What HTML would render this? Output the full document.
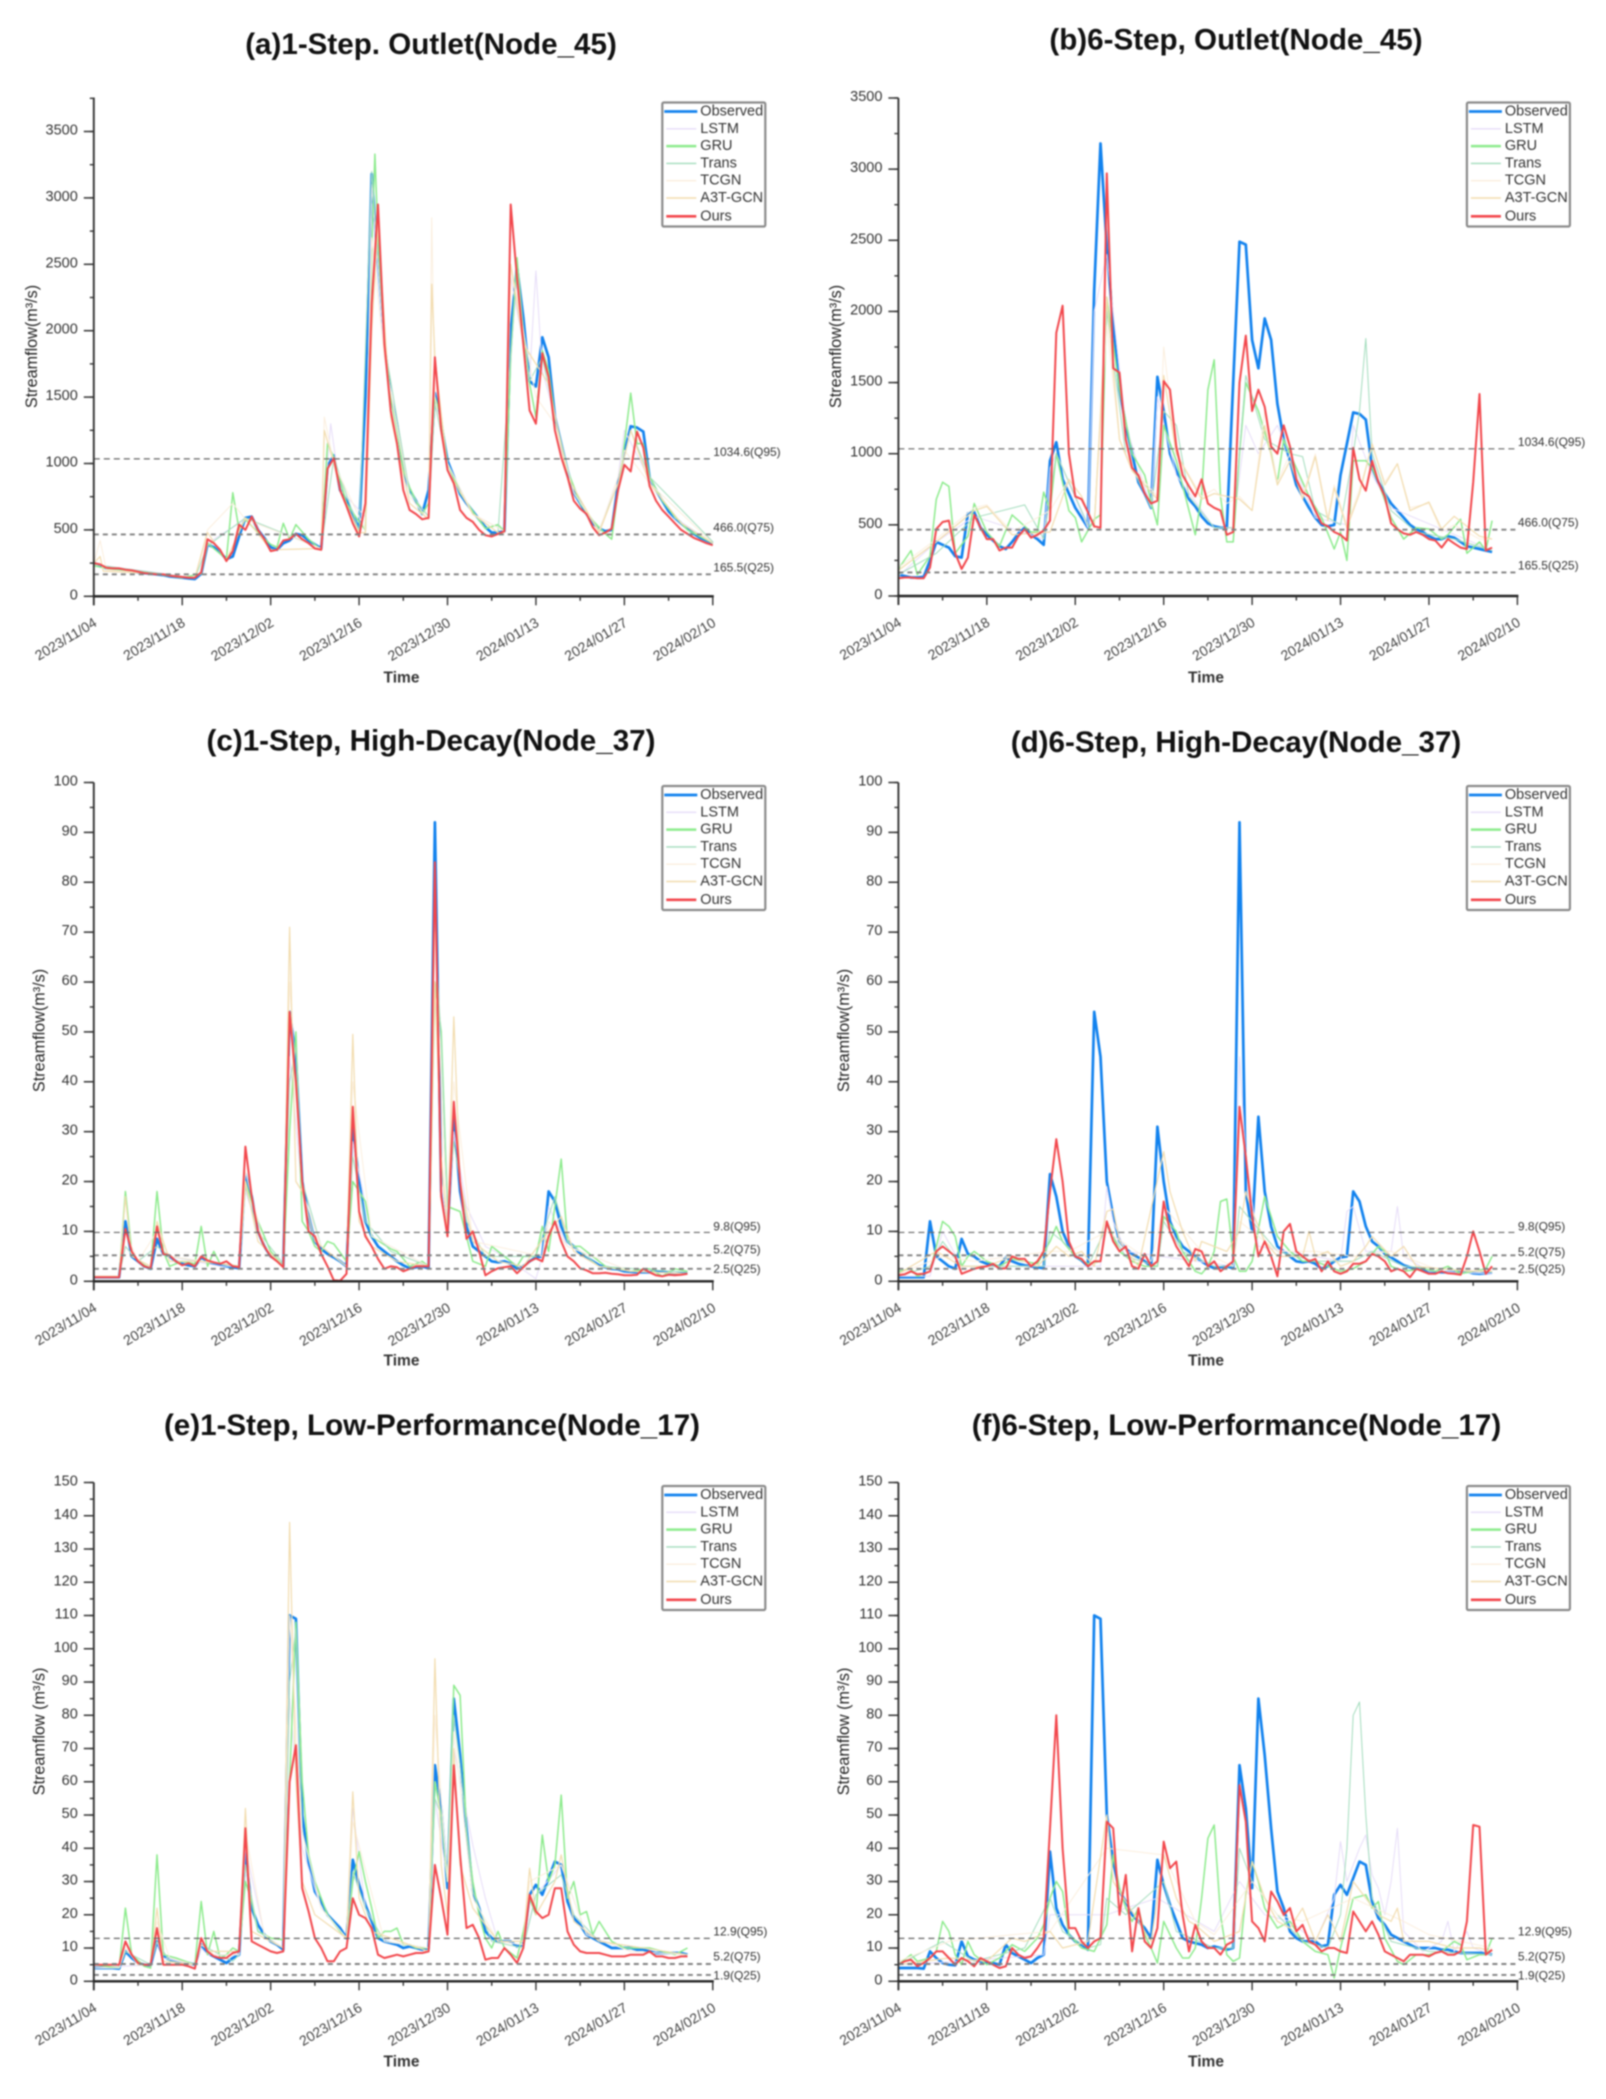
<!DOCTYPE html>
<html lang="en">
<head>
<meta charset="utf-8">
<title>Streamflow prediction panels</title>
<style>
html,body{margin:0;padding:0;background:#fff;}
#figure{display:block;width:1606px;height:2099px;filter:blur(0.8px);font-family:"Liberation Sans",sans-serif;}
.title{font-size:29.6px;font-weight:bold;fill:#111;text-anchor:middle;dominant-baseline:central;}
.xt{font-size:15.5px;font-weight:bold;fill:#333;text-anchor:middle;dominant-baseline:central;}
.yt{font-size:16.2px;fill:#222;text-anchor:middle;dominant-baseline:central;}
</style>
</head>
<body>
<svg id="figure" xmlns="http://www.w3.org/2000/svg" width="1606" height="2099" viewBox="0 0 1606 2099">
<rect width="1606" height="2099" fill="#fff"/>
<g id="panel-a">
<text class="title" x="431" y="44.5">(a)1-Step. Outlet(Node_45)</text>
<text class="xt" x="401.5" y="678">Time</text>
<text class="yt" transform="translate(32,346.5) rotate(-90)">Streamflow(m³/s)</text>
</g>
<g id="panel-b">
<text class="title" x="1236" y="40">(b)6-Step, Outlet(Node_45)</text>
<text class="xt" x="1206" y="678">Time</text>
<text class="yt" transform="translate(836,346.5) rotate(-90)">Streamflow(m³/s)</text>
</g>
<g id="panel-c">
<text class="title" x="431" y="741">(c)1-Step, High-Decay(Node_37)</text>
<text class="xt" x="401.5" y="1361.2">Time</text>
<text class="yt" transform="translate(39.5,1030.5) rotate(-90)">Streamflow(m³/s)</text>
</g>
<g id="panel-d">
<text class="title" x="1236" y="742.7">(d)6-Step, High-Decay(Node_37)</text>
<text class="xt" x="1206" y="1361.2">Time</text>
<text class="yt" transform="translate(844,1030.5) rotate(-90)">Streamflow(m³/s)</text>
</g>
<g id="panel-e">
<text class="title" x="432" y="1425.4">(e)1-Step, Low-Performance(Node_17)</text>
<text class="xt" x="401.5" y="2062">Time</text>
<text class="yt" transform="translate(39.5,1731.5) rotate(-90)">Streamflow (m³/s)</text>
</g>
<g id="panel-f">
<text class="title" x="1236.5" y="1425.4">(f)6-Step, Low-Performance(Node_17)</text>
<text class="xt" x="1206" y="2062">Time</text>
<text class="yt" transform="translate(844,1731.5) rotate(-90)">Streamflow (m³/s)</text>
</g>
</svg>
<script>
/* ---------- shared labels ---------- */
const dateLabels = ['2023/11/04','2023/11/18','2023/12/02','2023/12/16','2023/12/30','2024/01/13','2024/01/27','2024/02/10'];
const modelNames = ['Observed','LSTM','GRU','Trans','TCGN','A3T-GCN','Ours'];
const yTicksOutlet = [0,500,1000,1500,2000,2500,3000,3500];
const yTicksDecay = [0,10,20,30,40,50,60,70,80,90,100];
const yTicksLow = [0,10,20,30,40,50,60,70,80,90,100,110,120,130,140,150];
const qOutlet = [1034.6,466.0,165.5];
const qOutletLabels = ['1034.6(Q95)','466.0(Q75)','165.5(Q25)'];
const qDecay = [9.8,5.2,2.5];
const qDecayLabels = ['9.8(Q95)','5.2(Q75)','2.5(Q25)'];
const qLow = [12.9,5.2,1.9];
const qLowLabels = ['12.9(Q95)','5.2(Q75)','1.9(Q25)'];
const dayGrid = Array.from({length:99},(_,i)=>i);

/* ---------- panel a ---------- */
const aObserved = [250,235,210,205,205,200,190,180,175,170,165,160,150,145,140,135,130,170,390,370,330,280,300,450,590,600,500,440,370,350,400,420,470,460,420,390,360,980,1060,800,720,620,500,1500,3180,2500,1900,1500,1300,950,800,720,620,800,1530,1300,1020,900,770,700,640,580,520,480,480,490,2000,2480,2100,1620,1580,1950,1800,1350,1150,950,780,700,620,550,510,490,500,850,1080,1280,1270,1240,890,800,720,640,590,550,510,470,440,420,400];
const aOurs = [250,240,215,210,210,200,195,185,175,170,165,165,155,150,145,140,140,180,430,400,350,265,340,540,500,600,500,430,340,350,420,430,470,430,400,360,350,960,1040,800,680,550,450,700,2200,2950,1900,1400,1150,800,650,620,580,590,1800,1250,950,850,650,590,560,500,460,450,470,490,2950,2400,1900,1400,1300,1830,1650,1250,1050,900,720,660,620,520,460,480,510,800,990,940,1240,1120,830,720,650,600,550,500,470,440,420,400,385];
const aGruDays = [0,3,8,14,17,18,21,22,23,24,26,28,29,30,31,32,34,36,37,38,40,42,43,44,44.5,45,46,47,48,49,50,52,53,54,55,56,58,60,62,64,65,66,67,68,69,70,71,72,73,75,77,79,81,82,83,84,85,86,87,88,90,92,94,98];
const aGru = [230,200,180,140,170,400,280,780,500,580,480,390,370,550,430,540,430,350,1150,1050,700,560,500,2600,3330,2700,1950,1500,1250,950,820,620,700,1500,1350,1000,780,640,510,540,490,1800,2550,2000,1600,1350,1850,1700,1350,950,700,570,470,430,800,1150,1530,1150,1150,900,720,600,500,400];
const aA3tDays = [0,1,1.5,8,16,18,21,24,28,36,36.5,38,39,42,43,44,45,47,50,53,53.5,54,56,60,64,65,66,68,72,75,80,83,85,88,93,98];
const aA3t = [250,300,190,175,140,480,270,590,350,360,1250,1000,800,480,480,2000,2800,1350,700,580,2350,1800,950,620,480,480,2500,1900,1600,900,480,850,1250,850,550,400];
const aTcgnDays = [0,1,2,16,18,22,24,36,36.5,38,43,44,46,50,53,53.5,54,56,60,65,66,70,73,76,80,83,84,88,98];
const aTcgn = [250,420,200,140,500,700,580,360,1350,1000,500,2700,1800,750,580,2850,1500,1000,620,490,2500,1500,1300,780,490,900,1100,850,400];
const aLstmDays = [0,16,17,18,24,36,37,37.5,39,43,44,46,50,53,54,56,60,65,66,69,70,71,73,76,80,83,84,88,92,98];
const aLstm = [240,140,170,400,580,360,1000,1300,800,600,3100,1800,780,600,1500,1000,620,490,2400,1650,2450,1700,1350,780,490,900,1250,880,590,400];
const aTransDays = [0,16,18,24,36,38,42,44,46,50,53,54,56,60,64,66,67,69,71,73,76,80,83,85,88,98];
const aTrans = [240,135,380,590,360,1040,490,3200,1900,780,600,1450,1000,620,480,1800,2450,1620,1800,1350,780,500,850,1250,900,410];

/* ---------- panel b ---------- */
const bObserved = [150,140,130,130,135,250,380,360,340,280,270,580,590,480,430,390,350,330,380,440,480,430,400,360,950,1080,820,720,620,550,480,2150,3180,2450,1900,1450,1200,1000,800,720,620,1540,1300,1000,880,770,680,630,560,510,490,480,480,1500,2490,2470,1800,1600,1950,1800,1350,1100,950,780,700,620,550,500,490,500,850,1070,1290,1280,1240,900,800,720,650,600,550,500,470,450,420,400,400,420,410,380,350,340,330,320,310];
const bOurs = [125,130,130,125,125,200,470,520,530,300,190,270,570,480,400,400,320,340,340,420,470,410,430,460,530,1850,2040,1000,700,680,590,490,480,2970,1600,1570,1100,900,850,720,650,670,1510,1450,1050,850,770,700,820,650,620,600,430,450,1500,1830,1300,1450,1330,1050,1000,1200,1050,820,730,700,600,510,490,450,430,390,1040,820,740,950,800,700,510,470,440,430,450,430,400,390,340,400,370,340,330,800,1420,320,340];
const bGruDays = [0,2,3,5,6,7,8,9,11,12,14,16,18,21,22,23,24,25,27,28,29,31,32,33,35,37,39,40,41,42,44,46,47,48,49,50,51,52,53,54,55,57,59,60,61,63,65,67,69,70,71,72,74,75,76,78,80,82,84,86,87,89,90,92,93,94];
const bGru = [190,320,150,280,680,800,770,300,420,650,450,350,570,450,450,730,600,1000,600,550,380,540,570,2100,1450,1000,850,660,500,1200,950,600,430,700,1450,1660,700,380,380,1000,1500,1300,1000,800,1100,900,700,550,330,450,250,950,950,900,800,550,400,480,470,400,430,540,300,380,320,530];
const bTransDays = [0,6,12,20,23,25,30,31,33,36,40,42,44,46,50,53,55,58,62,64,66,70,72,73,74,75,78,82,88,94];
const bTrans = [150,300,550,640,400,1000,500,500,2000,1000,620,1300,1200,700,480,480,1550,1100,1000,980,600,500,1000,1300,1810,1000,600,450,400,320];
const bTcgnDays = [0,6,12,14,18,24,27,29,31,33,35,37,41,42,44,48,50,52,54,56,58,60,62,64,66,68,69,71,73,75,77,79,81,84,86,88,92,94];
const bTcgn = [200,400,620,640,450,600,820,700,480,1900,1100,900,700,1750,1000,700,750,650,700,600,1300,800,1000,700,1000,550,780,500,750,1050,800,930,620,650,450,500,400,400];
const bA3tDays = [0,6,12,14,18,24,27,29,31,33,35,37,41,42,44,48,50,54,56,58,60,62,64,66,68,69,71,73,75,77,79,81,84,86,88,92,94];
const bA3t = [180,380,600,630,430,450,820,700,480,2100,1100,880,680,1550,1000,680,720,680,600,1200,780,950,680,980,530,760,480,720,1070,780,930,600,660,470,560,420,400];
const bLstmDays = [0,6,12,23,24,25,30,31,33,36,40,41,44,50,53,55,57,60,66,71,72,75,78,94];
const bLstm = [140,380,560,400,900,1000,480,2000,2400,1200,620,1400,850,480,480,1200,1000,1200,550,500,1200,850,620,320];

/* ---------- panels c and d ---------- */
const decayObserved = [0.8,0.8,0.8,0.8,0.8,12,5,4,3,2.5,8.5,5.5,5,4,3.5,3.2,3,4.8,4,3.5,3.2,3,2.8,2.6,21.5,17,10,7,5,4.2,3,54,45,20,13,8,6.5,5.5,4.8,4,3,31,20,12,9,7,6,5,4,3.2,2.6,2.8,3,2.6,92,18,10,33,18,11,7,6,5,4,3.8,4,3.5,2.5,3,4,4.8,5,18,16,11,8,7,5.5,4.8,4,3.2,2.8,2.5,2.4,2,1.9,1.8,1.8,1.8,2,2,1.6,1.5,1.6,1.7];
const cOurs = [0.8,0.8,0.8,0.8,0.8,10.5,6,4,3,2.6,11,5.5,5.2,4,3.2,3.6,3,5,4.2,3.8,3.5,4,3,2.8,27,17,10,7,5,4,2.8,54,40,20,10,9,5.5,3,0.2,0.1,1.5,35,14,9,7,4.5,2.5,3,2.8,2,2.5,3,3,3,84,17,9,36,20,8.5,10,6,1.2,2,2.6,2.8,3,1.6,2.8,4,4.6,4,9,12,8,5,4,2.6,2.2,1.6,1.6,1.7,1.5,1.4,1.2,1.2,1.3,2.5,1.8,1.2,1,1.3,1.2,1.3,1.5];
const cGruDays = [0,4,5,6,7,9,10,11,12,14,16,17,18,19,20,23,24,26,28,30,31,32,33,34,35,36,37,38,40,41,43,44,47,48,50,52,53,54,55,56,58,59,60,62,63,65,67,68,70,71,72,73,74,75,76,77,79,81,83,85,88,90,92,94];
const cGru = [0.8,0.8,18,6,4,2.5,18,6,3,4,3.5,11,3,6,3.5,3,20,12,6,3,30,50,12,10,7,6,8,7.5,4,20,16,9,6.5,6,3,4,3,60,50,15,14,9,4,3,7,5,3,5,5,11,6,15,24.5,8,7,7,5,3,2.5,2,2.5,1,2.5,2];
const cA3tDays = [0,4,5,6,9,10,12,17,23,24,26,30,31,32,33,35,40,41,42,44,48,53,54,55,56,57,58,60,64,68,72,74,76,80,85,94];
const cA3t = [1,1,17,5,3,12,4,4,3,20,8,3,71,20,18,8,3,49.5,12,7,4,3,60,25,10,53,20,8,4,3,10,13,6,3,2,1.5];
const cTransDays = [0,4,5,7,10,12,17,23,24,26,30,31,32,33,36,40,41,43,47,53,54,55,56,57,59,62,70,73,75,80,94];
const cTrans = [1,1,7,4,7,5,4,3,19,10,3.5,40,47,20,7,3,25,12,6,3,70,48,15,28,12,5,5,17,8,3,1.8];
const cLstmDays = [0,4,5,7,10,12,20,23,24,27,30,31,33,36,40,41,44,53,54,55,56,57,59,62,65,70,71,72,75,85,94];
const cLstm = [1,1,7,4,7,5,3,3,18,7,3,45,18,7,3,28,9,3,80,20,10,30,15,7,5,0.5,5,15,7,2,1.5];
const cTcgnDays = [0,4,5,7,10,12,23,24,27,30,31,33,36,40,41,44,53,54,56,57,60,71,72,75,85,94];
const cTcgn = [1,1,10,4,10,5,3,22,7,3,60,18,7,3,40,9,3,70,10,40,8,5,12,7,2,1.5];

const dOurs = [1.2,1.4,2,1.4,1.5,2,6,7,6,5,1.5,2,2.5,2.8,3,3.5,2.5,2.6,5,4.5,4.5,3,4,6,18,28.5,20,8,5,4.5,3,4,4,12,8,6,7,3,2.5,5.5,3,4,16,10,7,5,3,6.5,6,3,4,2,3,4,35,25,13,5,8,5,1,10,11.5,6,5,4,4.5,2,4,2,1.5,2,3.5,3.5,4,5.5,5,4,2,2.5,2,0.8,2.5,2,1.5,1.5,2,1.6,1.5,1.3,5,10,6,1.5,3];
const dGruDays = [0,2,3,5,6,7,8,9,10,11,12,14,16,18,20,22,24,25,26,28,30,32,33,35,37,39,41,42,44,45,47,48,49,50,51,52,53,54,55,56,58,59,60,62,64,66,68,70,72,74,76,77,78,80,83,85,87,89,91,93,94];
const dGru = [2,2.5,1,2,7,12,11,9,3,5,6,4,3,4.5,4,3.5,8,11,8,5,3.5,4,12,6,4,3,3,13,10,6,2,1.5,3,6,16,16.5,5,2,2,4,17,13,9,6,4,4,3,2,2.5,4,7,6,3,2,2.5,2,3,1.5,2,2.5,5];
const dA3tDays = [0,6,10,14,18,22,25,27,29,31,33,34,35,38,42,43,45,47,48,50,52,54,55,56,58,60,64,65,66,68,70,72,74,75,78,80,82,90,94];
const dA3t = [1.5,6,3,3,5,3,7,5,6,3,14,14.5,8,3,26,18,10,4,8,7,6,10,18,14,8,5,5,10,5,6,3,4,7,9,5,7,3,2,2];
const dLstmDays = [0,5,7,10,32,33,34,36,53,54,55,57,66,70,71,72,74,78,79,80,84,94];
const dLstm = [1,1,10,3,3,19,12,6,3,45,25,7,5,4,14,15,6,6,15,5,2,1.5];
const dTransDays = [0,5,7,10,23,24,26,30,33,36,41,42,45,50,53,54,56,60,66,72,75,80,94];
const dTrans = [1,3,8,3,3,10,8,3,11,5,3,12,6,3,3,15,12,6,4,4,6,3,1.8];
const dTcgnDays = [0,7,12,24,27,33,40,42,48,53,54,60,66,72,78,85,94];
const dTcgn = [1.5,5,4,6,6,10,4,15,6,3,12,6,6,5,6,2.5,2];

/* ---------- panels e and f ---------- */
const lowObserved = [4,4,4,4,3.8,9,7,5.5,5,4.8,12,7.5,6.5,6,5.5,5.5,5,11,8.5,7.5,6.5,5.5,7,8,39,22,17,14,12,11,9.5,110,109,50,36,27,24,20,18,16,13,36.5,29,23,18,13,12,11.5,11,10,10.5,10,9.5,10,65,52,28,85,68,46,27,22,15,13,12,12,12,10.5,11,26,29,26,31,36,35,24,19,17,14,13,12,11,10,10,10,10,9.5,9.5,9,8.5,8.5,8.5,8.5,8.5,8];
const eOurs = [5,5,5,5,5,12,8,5.5,5,5,16,5,5,5,5,4.5,3.8,13,9,7.5,7,7,8.5,9,46,12,11,10,9,8.5,9,60,71,28,21,13,10,6,6,9,10,25,20,19,16,8,7,7.5,8,7.5,8,8.5,8.5,9,35,25,14,65,38,16,17,13,6.5,7,7,10,8,5.5,10,26,21,19,20,28,28,15,11,9,8.5,8.5,8.5,8,7.5,7.5,7.5,8,8,8,9,7.5,7.5,7,7,7.5,7.5];
const eGruDays = [0,4,5,6,8,9,10,11,13,16,17,18,19,20,21,22,23,24,25,26,28,30,31,32,33,34,35,37,39,40,41,42,43,44,45,46,47,48,49,50,51,53,54,55,56,57,58,59,60,61,62,63,64,65,67,68,69,70,71,72,73,74,75,76,77,78,79,80,82,84,86,88,90,92,94];
const eGru = [5,4,22,8,4.5,4,38,8,7,5,24,8,15,7,8,10,9,30,24,15,13,12.5,60,108,60,38,30,20,15,13,30,39,30,22,13,15,15,16,11,11,10,10,60,50,30,89,86,45,30,20,13,10,15,10,7,15,25,20,44,30,35,56,25,30,20,21,14,18,12,10,10,10,9,8,10];
const eA3tDays = [0,4,5,7,9,10,11,16,17,18,23,24,25,30,31,32,33,35,40,41,42,44,53,54,55,56,57,58,60,64,68,69,70,73,74,76,80,94];
const eA3t = [5,5,12,5,5,22,6,5,13,9,9,52,15,10,138,60,30,20,13,57,25,15,9,97,35,20,70,35,22,12,12,34,20,30,38,18,12,8];
const eTransDays = [0,4,5,9,10,12,16,17,22,23,24,26,30,31,32,33,36,40,41,43,46,53,54,55,56,57,58,60,63,68,70,74,76,80,94];
const eTrans = [4,4,9,5,12,6,5,11,6,8,35,15,10,90,106,45,22,13,33,22,12,10,55,50,32,80,65,27,12,10,26,32,20,12,8];
const eLstmDays = [0,9,10,11,16,17,18,23,24,27,30,31,33,36,40,41,43,46,53,54,56,57,60,62,64,68,70,74,78,85,94];
const eLstm = [4,5,12,7,5,10,8,8,40,14,10,85,40,22,13,52,22,12,10,55,30,70,41,25,12,11,26,35,14,9,8];
const eTcgnDays = [0,4,5,7,9,10,12,16,17,19,23,24,27,30,31,33,36,40,41,46,53,54,56,57,60,64,68,69,74,78,85,94];
const eTcgn = [4,4,10,5,5,18,7,5,11,8,8,45,14,10,110,45,22,13,48,12,10,80,30,75,25,12,11,30,35,14,9,8];

const fOurs = [5,6,6.5,4.5,5.5,7,9,9,7,5,7,6,4.5,7,6,5,4,4.5,10,8,7,7.5,10,13,46,80,40,16,16,12,10,12,13,48,46,20,32,9,22,12,10,16,42,34,36,20,9,17,12,10,10,8,11,12,59,48,18,16,12,27,24,20,22,15,17,12,11,9,10,10,9,8.5,21,18,15,18,14,9,8,7,6,8,8,8,7.5,8.5,9,8,8,9,18,47,46.5,8,9.5];
const fGruDays = [0,2,3,5,6,7,8,9,10,11,12,14,16,18,20,22,23,24,25,26,27,29,31,32,33,34,35,36,37,38,39,40,41,42,43,44,45,46,47,48,49,50,51,52,53,54,55,56,57,58,60,62,64,66,68,69,70,72,74,75,76,77,79,80,82,84,86,88,89,90,92,93,94];
const fGru = [5,8,6,7,9,18,15,8,5,12,8,5,7,11,9,13,17,25,30,27,14,10,9,13,17,38,28,22,18,22,14,10,5.5,18,14,10,7,7,10,25,43,47,20,8,6,7,26,36,30,22,16,18,12,9,8,1,10,25,26,22,24,13,6,5,8,8,9,12,11,6.5,8,8,13];
const fTransDays = [0,7,12,20,24,26,30,32,33,36,42,44,50,53,54,56,60,64,68,70,71,72,73,74,75,78,84,94];
const fTrans = [5,12,6,10,25,15,10,11,25,20,30,15,10,10,40,30,20,12,10,20,40,80,84,50,25,12,9,8];
const fLstmDays = [0,10,23,24,33,36,41,50,54,58,62,66,69,70,71,73,74,75,76,77,78,79,80,83,86,87,88,90,91,94];
const fLstm = [5,6,8,20,20,22,25,15,30,20,18,12,25,42,30,40,44,32,28,20,30,46,15,9,12,18,9,15,10,8];
const fA3tDays = [0,8,14,18,20,24,26,30,33,34,38,40,42,44,46,47,50,54,56,58,60,62,64,66,68,70,72,76,78,79,80,84,88,92,94];
const fA3t = [5,7,6,13,12,15,10,12,50,30,18,12,38,25,18,17,12,15,36,25,18,16,22,12,20,12,30,20,18,22,12,12,10,10,9];
const fTcgnDays = [0,8,18,24,33,42,47,50,56,60,64,72,80,84,94];
const fTcgn = [6,12,14,15,40,38,18,14,30,20,18,25,18,14,10];

/* ---------- styling and layout (pixels live here, not in the data) ---------- */
const SVGNS = 'http://www.w3.org/2000/svg';
const styles = {
  Observed:{stroke:'#1282ee',width:2.7},
  LSTM:{stroke:'#e6dcf8',width:1},
  GRU:{stroke:'#8ceb8c',width:1.5},
  Trans:{stroke:'#a2dcbc',width:1},
  TCGN:{stroke:'#fbeedd',width:1},
  'A3T-GCN':{stroke:'#f2dcae',width:1.2},
  Ours:{stroke:'#f2474c',width:2}
};
const panels = [
 {id:'a',left:93.8,right:712.8,bottom:596.3,ref:3500,refY:131.5,axisTop:97.5,ticks:yTicksOutlet,minor:250,q:qOutlet,qText:qOutletLabels,qDy:[-7,-7,-7],legendTop:102.5,
  series:{Observed:[dayGrid,aObserved],LSTM:[aLstmDays,aLstm],GRU:[aGruDays,aGru],Trans:[aTransDays,aTrans],TCGN:[aTcgnDays,aTcgn],'A3T-GCN':[aA3tDays,aA3t],Ours:[dayGrid,aOurs]}},
 {id:'b',left:898.4,right:1517.4,bottom:596,ref:3500,refY:98,axisTop:98,ticks:yTicksOutlet,minor:250,q:qOutlet,qText:qOutletLabels,qDy:[-7,-7,-7],legendTop:102.5,
  series:{Observed:[dayGrid,bObserved],LSTM:[bLstmDays,bLstm],GRU:[bGruDays,bGru],Trans:[bTransDays,bTrans],TCGN:[bTcgnDays,bTcgn],'A3T-GCN':[bA3tDays,bA3t],Ours:[dayGrid,bOurs]}},
 {id:'c',left:93.8,right:712.8,bottom:1281.3,ref:100,refY:782.5,axisTop:782.5,ticks:yTicksDecay,minor:5,q:qDecay,qText:qDecayLabels,qDy:[-5.8,-5.8,0],legendTop:786,
  series:{Observed:[dayGrid,decayObserved],LSTM:[cLstmDays,cLstm],GRU:[cGruDays,cGru],Trans:[cTransDays,cTrans],TCGN:[cTcgnDays,cTcgn],'A3T-GCN':[cA3tDays,cA3t],Ours:[dayGrid,cOurs]}},
 {id:'d',left:898.4,right:1517.4,bottom:1281.3,ref:100,refY:782.5,axisTop:782.5,ticks:yTicksDecay,minor:5,q:qDecay,qText:qDecayLabels,qDy:[-5.8,-3.6,0],legendTop:786,
  series:{Observed:[dayGrid,decayObserved],LSTM:[dLstmDays,dLstm],GRU:[dGruDays,dGru],Trans:[dTransDays,dTrans],TCGN:[dTcgnDays,dTcgn],'A3T-GCN':[dA3tDays,dA3t],Ours:[dayGrid,dOurs]}},
 {id:'e',left:93.8,right:712.8,bottom:1981.3,ref:150,refY:1482.5,axisTop:1482.5,ticks:yTicksLow,minor:5,q:qLow,qText:qLowLabels,qDy:[-7,-7.6,0.5],legendTop:1486,
  series:{Observed:[dayGrid,lowObserved],LSTM:[eLstmDays,eLstm],GRU:[eGruDays,eGru],Trans:[eTransDays,eTrans],TCGN:[eTcgnDays,eTcgn],'A3T-GCN':[eA3tDays,eA3t],Ours:[dayGrid,eOurs]}},
 {id:'f',left:898.4,right:1517.4,bottom:1981.3,ref:150,refY:1482.5,axisTop:1482.5,ticks:yTicksLow,minor:5,q:qLow,qText:qLowLabels,qDy:[-7,-7.6,0.5],legendTop:1486,
  series:{Observed:[dayGrid,lowObserved],LSTM:[fLstmDays,fLstm],GRU:[fGruDays,fGru],Trans:[fTransDays,fTrans],TCGN:[fTcgnDays,fTcgn],'A3T-GCN':[fA3tDays,fA3t],Ours:[dayGrid,fOurs]}}
];
const DAY_SPAN = 98;
const slug = s => s.toLowerCase().replace(/[^a-z0-9]+/g,'-');

function mk(parent, tag, attrs, name, text){
  const el = document.createElementNS(SVGNS, tag);
  for (const k in attrs) el.setAttribute(k, attrs[k]);
  
  
  if (text !== undefined) el.textContent = text;
  parent.appendChild(el);
  return el;
}

function drawPanel(p){
  const root = document.getElementById('panel-' + p.id);
  const xScale = d => p.left + (p.right - p.left) * d / DAY_SPAN;
  const yScale = v => p.bottom - (p.bottom - p.refY) * v / p.ref;
  const pre = 'panel-' + p.id + '-';

  /* series */
  const clipId = 'clip-' + p.id;
  const defs = mk(root, 'defs', {}, pre + 'defs');
  const clip = mk(defs, 'clipPath', {id:clipId}, pre + 'plot-clip');
  mk(clip, 'rect', {x:p.left, y:p.axisTop-4, width:p.right-p.left+2, height:p.bottom-p.axisTop+4}, pre + 'plot-clip-area');
  const plot = mk(root, 'g', {'clip-path':'url(#'+clipId+')'}, pre + 'plot-area');

  modelNames.forEach(name => {
    const s = p.series[name], st = styles[name];
    const n = Math.min(s[0].length, s[1].length);
    let pts = '';
    for (let i = 0; i < n; i++) pts += xScale(s[0][i]).toFixed(1) + ',' + yScale(s[1][i]).toFixed(1) + ' ';
    mk(plot, 'polyline', {points:pts.trim(), fill:'none', stroke:st.stroke, 'stroke-width':st.width, 'stroke-linejoin':'round'}, pre + 'series-' + slug(name));
  });

  /* quantile reference lines */
  p.q.forEach((v,i) => {
    const y = yScale(v);
    mk(root, 'line', {x1:p.left, x2:p.right, y1:y, y2:y, stroke:i===0?'#666':'#808080', 'stroke-width':i===0?1.2:1.9, 'stroke-dasharray':i===0?'6 4':'5 4'}, pre + 'quantile-line-' + (i+1));
    mk(root, 'text', {x:p.right+0.5, y:y+p.qDy[i], 'font-size':12, fill:'#333', 'dominant-baseline':'central'}, pre + 'quantile-label-' + (i+1), p.qText[i]);
  });

  /* y axis */
  mk(root, 'line', {x1:p.left, x2:p.left, y1:p.axisTop, y2:p.bottom+9, stroke:'#333', 'stroke-width':1.9}, pre + 'y-axis-line');
  const topVal = (p.bottom - p.axisTop) / (p.bottom - p.refY) * p.ref;
  for (let v = 0; v <= topVal + 0.01; v += p.minor){
    mk(root, 'line', {x1:p.left-4, x2:p.left, y1:yScale(v), y2:yScale(v), stroke:'#333', 'stroke-width':1.4}, pre + 'y-minor-tick');
  }
  p.ticks.forEach(v => {
    const y = yScale(v);
    mk(root, 'line', {x1:p.left-10, x2:p.left, y1:y, y2:y, stroke:'#333', 'stroke-width':1.5}, pre + 'y-major-tick');
    mk(root, 'text', {x:p.left-16, y:y-1, 'font-size':14.5, fill:'#333', 'text-anchor':'end', 'dominant-baseline':'central'}, pre + 'y-tick-label', String(v));
  });

  /* x axis */
  mk(root, 'line', {x1:p.left-1, x2:p.right+1, y1:p.bottom, y2:p.bottom, stroke:'#222', 'stroke-width':2.4}, pre + 'x-axis-line');
  for (let d = 0; d <= DAY_SPAN; d += 7){
    const major = d % 14 === 0, x = xScale(d);
    mk(root, 'line', {x1:x, x2:x, y1:p.bottom, y2:p.bottom+(major?9:4.5), stroke:'#333', 'stroke-width':1.4}, pre + (major?'x-major-tick':'x-minor-tick'));
  }
  dateLabels.forEach((lab,i) => {
    const x = xScale(i*14);
    mk(root, 'text', {transform:'translate('+(x+4)+','+(p.bottom+29)+') rotate(-31)', 'font-size':14, fill:'#444', 'text-anchor':'end'}, pre + 'x-tick-label', lab);
  });

  /* legend */
  const boxLeft = p.left + 568.5, top = p.legendTop;
  const lg = mk(root, 'g', {}, pre + 'legend');
  mk(lg, 'rect', {x:boxLeft, y:top, width:103, height:124, rx:1.5, fill:'#fff', stroke:'#8a8a8a', 'stroke-width':2.2}, pre + 'legend-box');
  modelNames.forEach((name,i) => {
    const y = top + 9 + i*17.3 + (i===6?1:0), st = styles[name];
    const thick = name==='Observed'||name==='Ours'||name==='GRU';
    mk(lg, 'line', {x1:boxLeft+(i===0?2:4), x2:boxLeft+(i===0?35:34), y1:y, y2:y, stroke:st.stroke, 'stroke-width':thick?(name==='GRU'?2.5:2.7):1.4}, pre + 'legend-line-' + slug(name));
    mk(lg, 'text', {x:boxLeft+38, y:y, 'font-size':14.5, fill:'#333', 'dominant-baseline':'central'}, pre + 'legend-entry-' + slug(name), name);
  });
}
panels.forEach(drawPanel);
</script>
</body>
</html>
